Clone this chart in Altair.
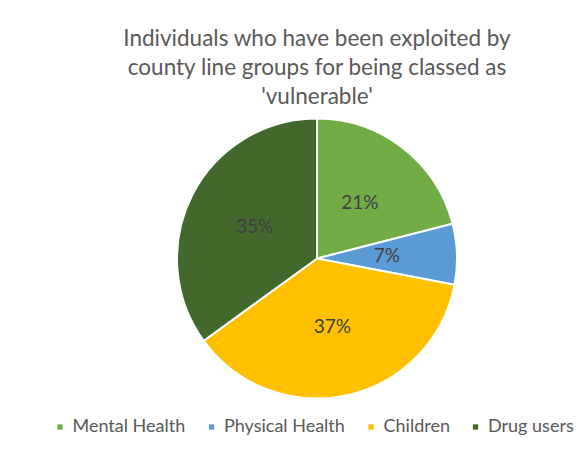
import altair as alt
import pandas as pd

categories = ["Mental Health", "Physical Health", "Children", "Drug users"]
values = [21, 7, 37, 35]
labels = ["21%", "7%", "37%", "35%"]
colors = ["#70AD47", "#5B9BD5", "#FFC000", "#43682B"]
title_lines = [
    "Individuals who have been exploited by",
    "county line groups for being classed as",
    "'vulnerable'",
]

df = pd.DataFrame({
    "category": categories,
    "value": values,
    "label": labels,
    "order": list(range(len(categories))),
})

base = alt.Chart(df).encode(
    theta=alt.Theta("value:Q", stack=True),
    order=alt.Order("order:Q"),
)

pie = base.mark_arc(outerRadius=140, stroke="white", strokeWidth=2).encode(
    color=alt.Color(
        "category:N",
        scale=alt.Scale(domain=categories, range=colors),
        legend=alt.Legend(
            title=None,
            orient="none",
            direction="horizontal",
            legendX=-3,
            legendY=298,
            symbolType="square",
            symbolSize=28,
            symbolStrokeWidth=0,
            labelFont="Lato",
            labelFontSize=18,
            labelColor="#595959",
            labelOffset=3.5,
            columnPadding=16.5,
        ),
    )
)

text = base.mark_text(radius=70, fontSize=19, font="Lato", color="#404040").encode(
    text="label:N"
)

chart = (
    alt.layer(pie, text)
    .properties(
        width=526,
        height=277,
        autosize="none",
        padding={"left": 46, "top": 112, "right": 0, "bottom": 40},
        background="white",
        title=alt.Title(
            title_lines,
            font="Lato",
            fontSize=22.5,
            fontWeight="normal",
            color="#595959",
            lineHeight=29,
            offset=6,
            anchor="middle",
        ),
    )
    .configure_view(stroke=None)
)

chart.save("out.html", embed_options={"renderer": "svg", "actions": False})
